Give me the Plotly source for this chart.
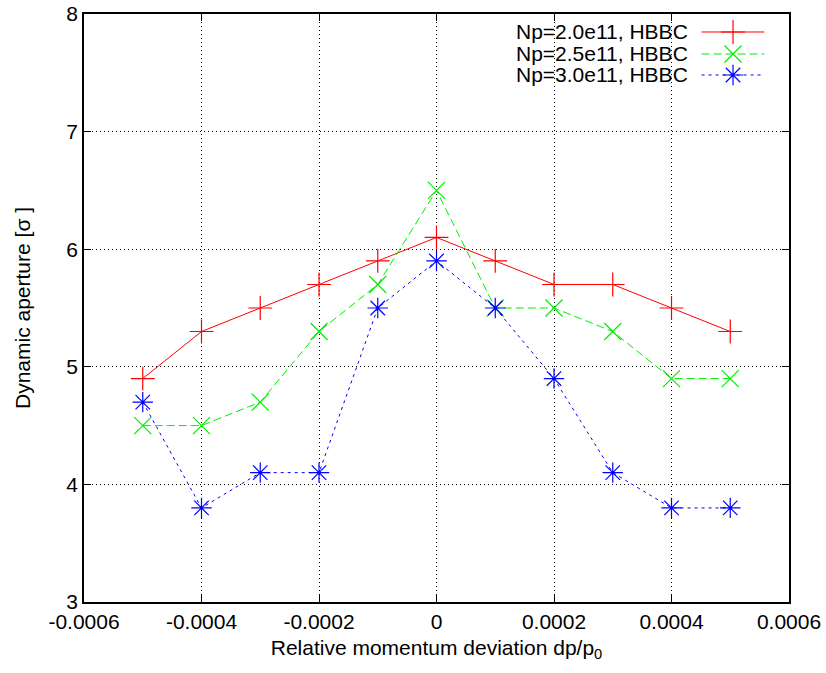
import plotly.graph_objects as go

dp = [-0.0005, -0.0004, -0.0003, -0.0002, -0.0001, 0.0, 0.0001, 0.0002, 0.0003, 0.0004, 0.0005]
da_20 = [4.9, 5.3, 5.5, 5.7, 5.9, 6.1, 5.9, 5.7, 5.7, 5.5, 5.3]
da_25 = [4.5, 4.5, 4.7, 5.3, 5.7, 6.5, 5.5, 5.5, 5.3, 4.9, 4.9]
da_30 = [4.7, 3.8, 4.1, 4.1, 5.5, 5.9, 5.5, 4.9, 4.1, 3.8, 3.8]
names = ["Np=2.0e11, HBBC", "Np=2.5e11, HBBC", "Np=3.0e11, HBBC"]

x_tickvals = [-0.0006, -0.0004, -0.0002, 0, 0.0002, 0.0004, 0.0006]
x_ticktext = ["-0.0006", "-0.0004", "-0.0002", "0", "0.0002", "0.0004", "0.0006"]
y_tickvals = [3, 4, 5, 6, 7, 8]

FONT = "Liberation Sans, Arial, sans-serif"
FS = 21

styles = [
    dict(color="#ff0000", dash="solid", symbol="cross-thin-open"),
    dict(color="#00ee00", dash="8px,4px", symbol="x-thin-open"),
    dict(color="#0000ff", dash="3px,4px", symbol="asterisk-open"),
]

fig = go.Figure()
for ys, nm, st in zip([da_20, da_25, da_30], names, styles):
    fig.add_trace(go.Scatter(
        x=dp, y=ys, mode="lines+markers", name=nm, showlegend=False,
        line=dict(color=st["color"], width=1, dash=st["dash"]),
        marker=dict(symbol=st["symbol"], size=17, color=st["color"],
                    line=dict(color=st["color"], width=1.2)),
        cliponaxis=False,
    ))

# custom gnuplot-style legend (text on the left, sample on the right)
leg_rows = [0.9694, 0.932, 0.8963]
leg_text_x = 0.8596
leg_line = [0.876, 0.965]
leg_mark = 0.9206
for nm, st, yy in zip(names, styles, leg_rows):
    fig.add_annotation(x=leg_text_x, y=yy, xref="paper", yref="paper", text=nm,
                       showarrow=False, xanchor="right", yanchor="middle",
                       font=dict(family=FONT, size=FS, color="black"))
    fig.add_trace(go.Scatter(
        x=leg_line, y=[yy, yy], xaxis="x2", yaxis="y2", mode="lines",
        line=dict(color=st["color"], width=1, dash=st["dash"]),
        showlegend=False, hoverinfo="skip"))
    fig.add_trace(go.Scatter(
        x=[leg_mark], y=[yy], xaxis="x2", yaxis="y2", mode="markers",
        marker=dict(symbol=st["symbol"], size=17, color=st["color"],
                    line=dict(color=st["color"], width=1.2)),
        showlegend=False, hoverinfo="skip"))

axis_common = dict(
    showline=True, linecolor="black", linewidth=1.5, mirror="ticks",
    ticks="inside", ticklen=7, tickcolor="black", tickwidth=1,
    showgrid=True, gridcolor="black", gridwidth=1, griddash="1px,3px",
    zeroline=False, automargin=False,
    tickfont=dict(family=FONT, size=FS, color="black"),
)

fig.update_layout(
    width=826, height=673,
    margin=dict(l=84, r=37, t=14, b=71),
    paper_bgcolor="white", plot_bgcolor="white",
    font=dict(family=FONT, size=FS, color="black"),
    xaxis=dict(range=[-0.0006, 0.0006], tickvals=x_tickvals, ticktext=x_ticktext,
               title=dict(text="Relative momentum deviation dp/p<sub>0</sub>",
                          font=dict(family=FONT, size=FS), standoff=8),
               **axis_common),
    yaxis=dict(range=[3, 8], tickvals=y_tickvals,
               title=dict(text="Dynamic aperture [σ ]",
                          font=dict(family=FONT, size=FS), standoff=30),
               **axis_common),
    xaxis2=dict(overlaying="x", range=[0, 1], visible=False, domain=[0, 1]),
    yaxis2=dict(overlaying="y", range=[0, 1], visible=False),
    showlegend=False,
)

fig.write_html("out.html")
